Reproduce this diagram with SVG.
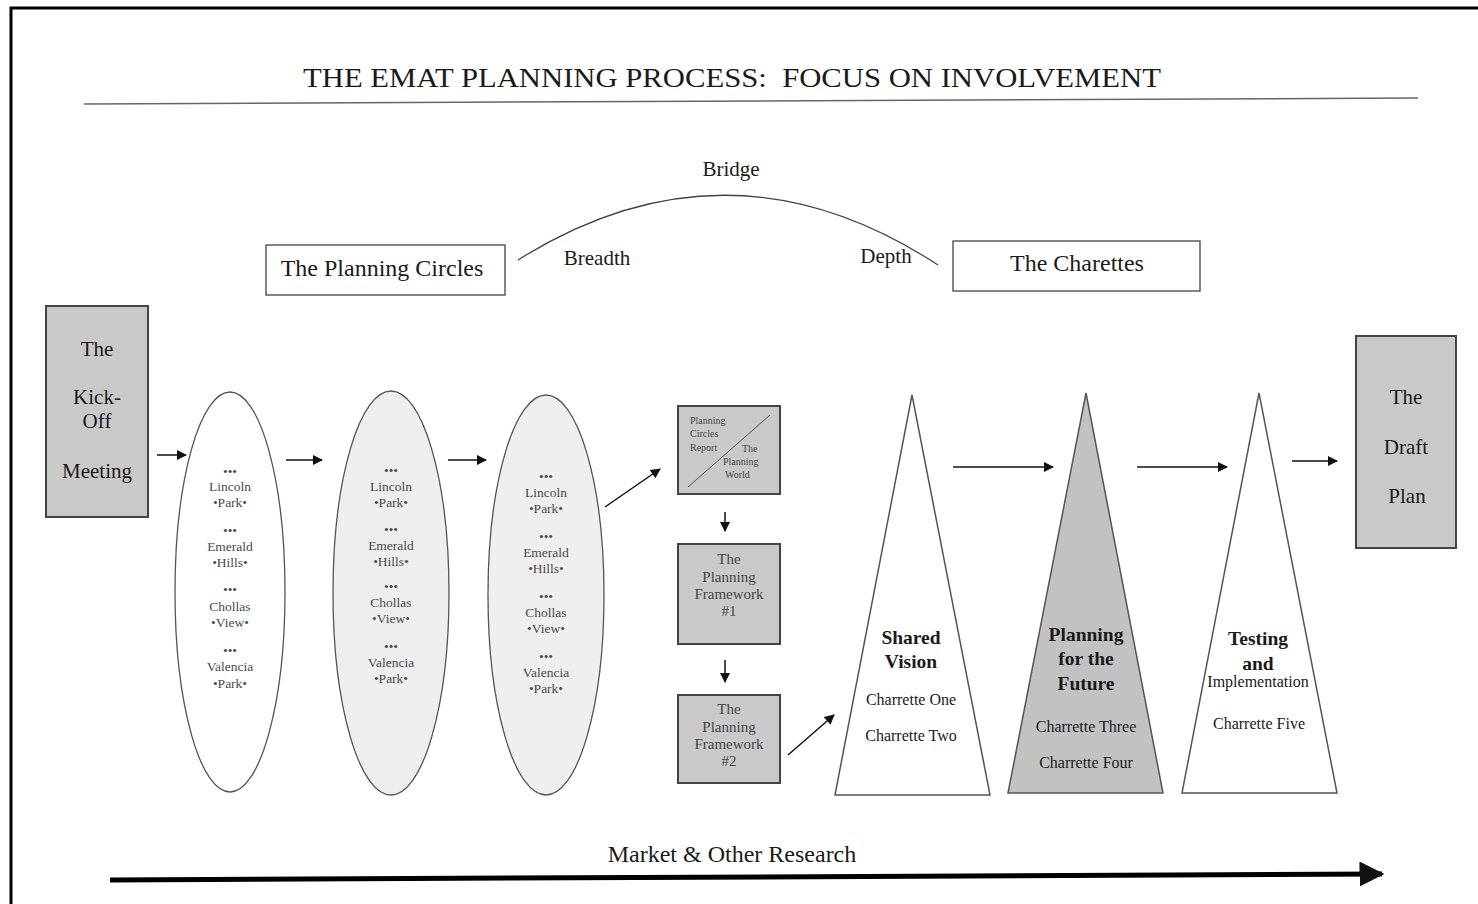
<svg xmlns="http://www.w3.org/2000/svg" width="1478" height="904" viewBox="0 0 1478 904">
<style>
text{font-family:"Liberation Serif","Times New Roman",serif;fill:#1a1a1a;text-anchor:middle}
.lbl{font-size:24px}
.big{font-size:21px}
.sm{font-size:13.5px;fill:#4a4a4a}
.tiny{font-size:10px;fill:#444;text-anchor:start}
.fw{font-size:15px;fill:#444}
.bold{font-size:19.5px;font-weight:bold}
.ch{font-size:16px}
.box{fill:#fff;stroke:#333;stroke-width:1.2}
.gbox{fill:#c9c9c9;stroke:#444;stroke-width:2}
.conn{stroke:#111;stroke-width:1.5;fill:none}
</style>
<defs>
<marker id="ah" viewBox="0 0 10 10" refX="9" refY="5" markerWidth="11" markerHeight="10" markerUnits="userSpaceOnUse" orient="auto"><path d="M0,0 L10,5 L0,10 z" fill="#111"/></marker>
<marker id="ahBig" viewBox="0 0 10 10" refX="9" refY="5" markerWidth="5" markerHeight="5" orient="auto"><path d="M0,0 L10,5 L0,10 z" fill="#111"/></marker>
</defs>
<rect width="1478" height="904" fill="#fff"/>
<path d="M11,904 V8 H1478" fill="none" stroke="#000" stroke-width="3"/>

<g id="title">
<text x="732" y="87" font-size="28" textLength="858" lengthAdjust="spacingAndGlyphs" xml:space="preserve">THE EMAT PLANNING PROCESS:  FOCUS ON INVOLVEMENT</text>
<path d="M84,104 L1418,98" stroke="#666" stroke-width="1.5"/>
</g>

<g id="planning-circles">
<rect class="box" x="266" y="245" width="239" height="50"/>
<text class="lbl" x="382" y="276">The Planning Circles</text>
</g>
<g id="charettes">
<rect class="box" x="953" y="241" width="247" height="50"/>
<text class="lbl" x="1077" y="271">The Charettes</text>
</g>
<g id="bridge">
<path d="M518,260 Q728,128 938,265" fill="none" stroke="#444" stroke-width="1.3"/>
<text class="big" x="731" y="176">Bridge</text>
<text class="big" x="597" y="265">Breadth</text>
<text class="big" x="886" y="263">Depth</text>
</g>

<g id="kickoff">
<rect class="gbox" x="46" y="306" width="102" height="211"/>
<text class="big" x="97" y="356">The</text>
<text class="big" x="97" y="404">Kick-</text>
<text class="big" x="97" y="428">Off</text>
<text class="big" x="97" y="478">Meeting</text>
</g>

<g id="circle1">
<ellipse cx="230" cy="592" rx="55" ry="200" fill="#fff" stroke="#555" stroke-width="1.3"/>
<text class="sm" x="230" y="476">•••</text><text class="sm" x="230" y="491">Lincoln</text><text class="sm" x="230" y="507">•Park•</text>
<text class="sm" x="230" y="535">•••</text><text class="sm" x="230" y="551">Emerald</text><text class="sm" x="230" y="567">•Hills•</text>
<text class="sm" x="230" y="594">•••</text><text class="sm" x="230" y="611">Chollas</text><text class="sm" x="230" y="627">•View•</text>
<text class="sm" x="230" y="655">•••</text><text class="sm" x="230" y="671">Valencia</text><text class="sm" x="230" y="688">•Park•</text>
</g>
<g id="circle2">
<ellipse cx="391" cy="593" rx="58" ry="202" fill="#eeeeee" stroke="#555" stroke-width="1.3"/>
<text class="sm" x="391" y="475">•••</text><text class="sm" x="391" y="491">Lincoln</text><text class="sm" x="391" y="507">•Park•</text>
<text class="sm" x="391" y="534">•••</text><text class="sm" x="391" y="550">Emerald</text><text class="sm" x="391" y="566">•Hills•</text>
<text class="sm" x="391" y="591">•••</text><text class="sm" x="391" y="607">Chollas</text><text class="sm" x="391" y="623">•View•</text>
<text class="sm" x="391" y="651">•••</text><text class="sm" x="391" y="667">Valencia</text><text class="sm" x="391" y="683">•Park•</text>
</g>
<g id="circle3">
<ellipse cx="546" cy="595" rx="58" ry="200" fill="#efefef" stroke="#555" stroke-width="1.3"/>
<text class="sm" x="546" y="481">•••</text><text class="sm" x="546" y="497">Lincoln</text><text class="sm" x="546" y="513">•Park•</text>
<text class="sm" x="546" y="541">•••</text><text class="sm" x="546" y="557">Emerald</text><text class="sm" x="546" y="573">•Hills•</text>
<text class="sm" x="546" y="601">•••</text><text class="sm" x="546" y="617">Chollas</text><text class="sm" x="546" y="633">•View•</text>
<text class="sm" x="546" y="661">•••</text><text class="sm" x="546" y="677">Valencia</text><text class="sm" x="546" y="693">•Park•</text>
</g>

<g id="report">
<rect class="gbox" x="678" y="406" width="102" height="88"/>
<path d="M688,487 L770,415" stroke="#555" stroke-width="1"/>
<text class="tiny" x="690" y="424">Planning</text>
<text class="tiny" x="690" y="437">Circles</text>
<text class="tiny" x="690" y="451">Report</text>
<text class="tiny" x="742" y="452">The</text>
<text class="tiny" x="723" y="465" font-size="9">Planning</text>
<text class="tiny" x="725" y="478">World</text>
</g>
<g id="framework1">
<rect class="gbox" x="678" y="544" width="102" height="100"/>
<text class="fw" x="729" y="564">The</text>
<text class="fw" x="729" y="582">Planning</text>
<text class="fw" x="729" y="599">Framework</text>
<text class="fw" x="729" y="616">#1</text>
</g>
<g id="framework2">
<rect class="gbox" x="678" y="695" width="102" height="88"/>
<text class="fw" x="729" y="714">The</text>
<text class="fw" x="729" y="732">Planning</text>
<text class="fw" x="729" y="749">Framework</text>
<text class="fw" x="729" y="766">#2</text>
</g>

<g id="shared-vision">
<path d="M912,395 L990,795 L835,795 Z" fill="#fff" stroke="#555" stroke-width="1.5"/>
<text class="bold" x="911" y="644">Shared</text>
<text class="bold" x="911" y="668">Vision</text>
<text class="ch" x="911" y="705">Charrette One</text>
<text class="ch" x="911" y="741">Charrette Two</text>
</g>
<g id="planning-future">
<path d="M1086,393 L1163,793 L1008,793 Z" fill="#c2c2c2" stroke="#555" stroke-width="1.5"/>
<text class="bold" x="1086" y="641">Planning</text>
<text class="bold" x="1086" y="665">for the</text>
<text class="bold" x="1086" y="690">Future</text>
<text class="ch" x="1086" y="732">Charrette Three</text>
<text class="ch" x="1086" y="768">Charrette Four</text>
</g>
<g id="testing">
<path d="M1259,393 L1337,793 L1182,793 Z" fill="#fff" stroke="#555" stroke-width="1.5"/>
<text class="bold" x="1258" y="645">Testing</text>
<text class="bold" x="1258" y="670">and</text>
<text class="ch" x="1258" y="687" font-size="15.5">Implementation</text>
<text class="ch" x="1259" y="729">Charrette Five</text>
</g>

<g id="draft-plan">
<rect class="gbox" x="1356" y="336" width="100" height="212"/>
<text class="big" x="1406" y="404">The</text>
<text class="big" x="1406" y="454">Draft</text>
<text class="big" x="1407" y="503">Plan</text>
</g>

<g id="connectors">
<line class="conn" x1="157" y1="455" x2="186" y2="455" marker-end="url(#ah)"/>
<line class="conn" x1="286" y1="460" x2="322" y2="460" marker-end="url(#ah)"/>
<line class="conn" x1="448" y1="460" x2="486" y2="460" marker-end="url(#ah)"/>
<line class="conn" x1="605" y1="507" x2="660" y2="469" marker-end="url(#ah)"/>
<line class="conn" x1="725" y1="512" x2="725" y2="531" marker-end="url(#ah)"/>
<line class="conn" x1="725" y1="660" x2="725" y2="682" marker-end="url(#ah)"/>
<line class="conn" x1="788" y1="755" x2="834" y2="715" marker-end="url(#ah)"/>
<line class="conn" x1="953" y1="467" x2="1053" y2="467" marker-end="url(#ah)"/>
<line class="conn" x1="1137" y1="467" x2="1227" y2="467" marker-end="url(#ah)"/>
<line class="conn" x1="1292" y1="461" x2="1337" y2="461" marker-end="url(#ah)"/>
</g>

<g id="research">
<text class="lbl" x="732" y="862">Market &amp; Other Research</text>
<path d="M110,880 L1382,874" stroke="#000" stroke-width="5" fill="none" marker-end="url(#ahBig)"/>
</g>
</svg>
